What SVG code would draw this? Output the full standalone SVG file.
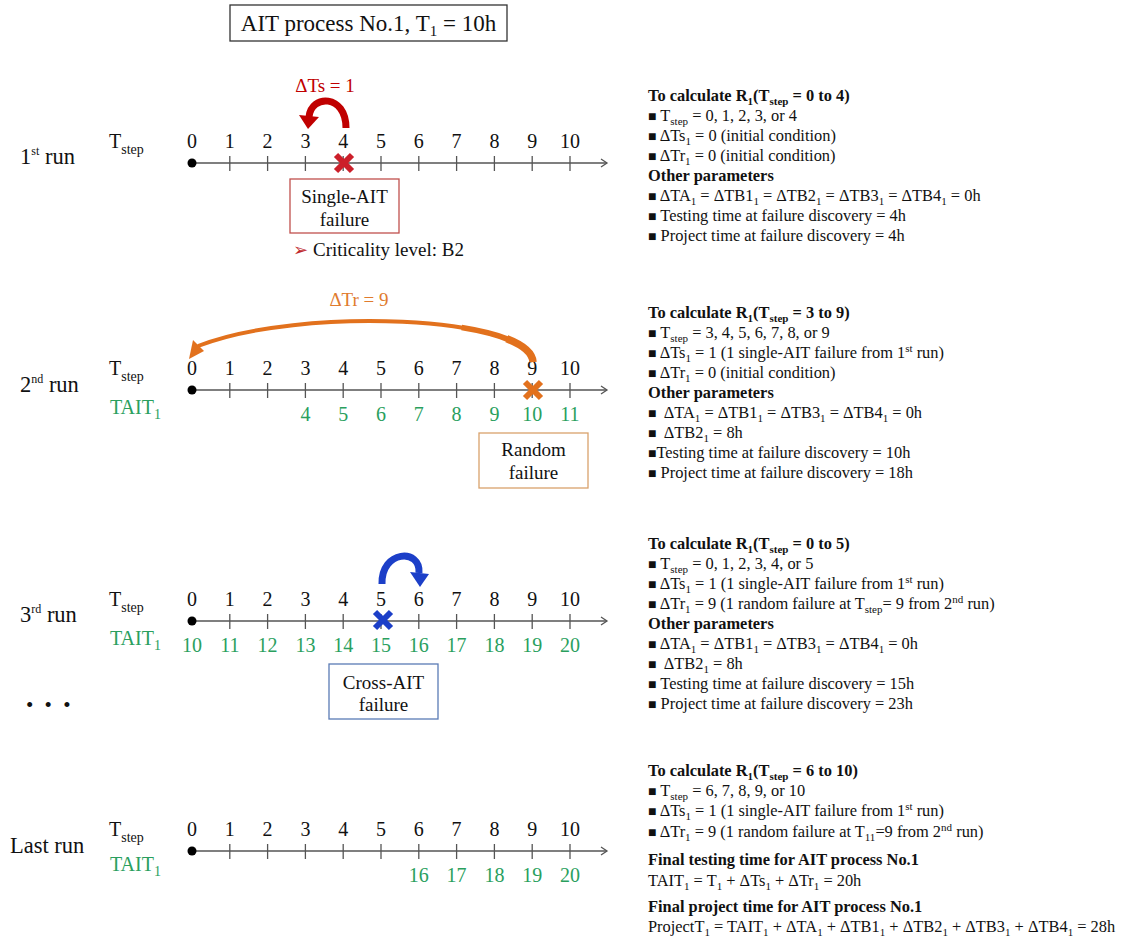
<svg xmlns="http://www.w3.org/2000/svg" width="1126" height="940" viewBox="0 0 1126 940">
  <style>
    text { font-family: "Liberation Serif", "Times New Roman", serif; fill: #111; }
    .lbl { font-size: 22.5px; }
    .num { font-size: 20px; text-anchor: middle; }
    .grn { fill: #2a9f5e; }
    .tst { font-size: 20px; }
    .sm { font-size: 14px; }
    .r { font-size: 16.4px; }
    .rb { font-size: 16.4px; font-weight: bold; }
    .s { font-size: 11px; }
    .sup { font-size: 12px; }
    .bul { font-family: "Liberation Sans", "DejaVu Sans", sans-serif; font-size: 14px; }
    .box { font-size: 19px; text-anchor: middle; }
    .axis { stroke: #555; stroke-width: 1.3; fill: none; }
    .tick { stroke: #555; stroke-width: 1.3; }
    .frame { fill: #fff; stroke-width: 1.3; }
  </style>
  <defs>
    <marker id="axhead" markerUnits="userSpaceOnUse" markerWidth="12" markerHeight="12" refX="8" refY="6" orient="auto">
      <path d="M2,2 L8,6 L2,10" fill="none" stroke="#555" stroke-width="1.3"/>
    </marker>
    <!-- one timeline: axis, origin dot and ticks 1..10 -->
    <g id="timeline">
      <line class="axis" x1="192" y1="0" x2="607" y2="0" marker-end="url(#axhead)"/>
      <circle cx="192" cy="0" r="4.5" fill="#000"/>
      <line class="tick" x1="229.8" y1="-7" x2="229.8" y2="8"/>
      <line class="tick" x1="267.6" y1="-7" x2="267.6" y2="8"/>
      <line class="tick" x1="305.4" y1="-7" x2="305.4" y2="8"/>
      <line class="tick" x1="343.2" y1="-7" x2="343.2" y2="8"/>
      <line class="tick" x1="381" y1="-7" x2="381" y2="8"/>
      <line class="tick" x1="418.8" y1="-7" x2="418.8" y2="8"/>
      <line class="tick" x1="456.6" y1="-7" x2="456.6" y2="8"/>
      <line class="tick" x1="494.4" y1="-7" x2="494.4" y2="8"/>
      <line class="tick" x1="532.2" y1="-7" x2="532.2" y2="8"/>
      <line class="tick" x1="570" y1="-7" x2="570" y2="8"/>
    </g>
    <!-- step numbers 0..10 above the axis -->
    <g id="steps">
      <text class="num" x="192" y="0">0</text>
      <text class="num" x="229.8" y="0">1</text>
      <text class="num" x="267.6" y="0">2</text>
      <text class="num" x="305.4" y="0">3</text>
      <text class="num" x="343.2" y="0">4</text>
      <text class="num" x="381" y="0">5</text>
      <text class="num" x="418.8" y="0">6</text>
      <text class="num" x="456.6" y="0">7</text>
      <text class="num" x="494.4" y="0">8</text>
      <text class="num" x="532.2" y="0">9</text>
      <text class="num" x="570" y="0">10</text>
    </g>
    <g id="xmark">
      <line x1="-8" y1="-8" x2="8" y2="8" stroke-width="6"/>
      <line x1="-8" y1="8" x2="8" y2="-8" stroke-width="6"/>
    </g>
  </defs>

  <!-- title -->
  <g id="title">
    <rect x="230" y="5" width="277" height="36" fill="#fff" stroke="#333" stroke-width="1.3"/>
    <text x="368.5" y="31" font-size="23" text-anchor="middle">AIT process No.1, T<tspan font-size="15" dy="5">1</tspan><tspan dy="-5"> = 10h</tspan></text>
  </g>

  <!-- 1st run -->
  <g id="run1">
    <text class="lbl" x="20" y="164">1<tspan class="sup" dy="-9">st</tspan><tspan dy="9"> run</tspan></text>
    <text class="tst" x="109" y="148">T<tspan class="sm" dy="6">step</tspan></text>
    <use href="#steps" y="148"/>
    <use href="#timeline" y="163"/>
    <use href="#xmark" x="344" y="163" stroke="#cc1f2a"/>
  </g>
  <g id="single-ait-failure">
    <rect class="frame" x="290" y="179" width="109" height="54" stroke="#c0504d"/>
    <text class="box" x="344.5" y="203">Single-AIT</text>
    <text class="box" x="344.5" y="226">failure</text>
  </g>
  <g id="criticality">
    <text x="293" y="256" font-size="18" style="font-family:'DejaVu Sans',sans-serif;fill:#c0282d">➢</text>
    <text x="313" y="256" font-size="19">Criticality level: B2</text>
  </g>
  <g id="label-ts">
    <text x="325" y="92" font-size="19" text-anchor="middle" style="fill:#c00000">ΔTs = 1</text>
  </g>

  <!-- 2nd run -->
  <g id="run2">
    <text class="lbl" x="20" y="392">2<tspan class="sup" dy="-9">nd</tspan><tspan dy="9"> run</tspan></text>
    <text class="tst" x="109" y="375">T<tspan class="sm" dy="6">step</tspan></text>
    <text class="tst grn" x="110" y="414">TAIT<tspan class="sm" dy="5">1</tspan></text>
    <use href="#steps" y="375"/>
    <use href="#timeline" y="390"/>
    <text class="num grn" x="305.4" y="421">4</text>
    <text class="num grn" x="343.2" y="421">5</text>
    <text class="num grn" x="381" y="421">6</text>
    <text class="num grn" x="418.8" y="421">7</text>
    <text class="num grn" x="456.6" y="421">8</text>
    <text class="num grn" x="494.4" y="421">9</text>
    <text class="num grn" x="532.2" y="421">10</text>
    <text class="num grn" x="570" y="421">11</text>
    <use href="#xmark" x="533" y="390" stroke="#e2711d"/>
  </g>
  <g id="random-failure">
    <rect class="frame" x="479" y="433" width="109" height="55" stroke="#d9a26c"/>
    <text class="box" x="533.5" y="456">Random</text>
    <text class="box" x="533.5" y="479">failure</text>
  </g>
  <g id="label-tr">
    <text x="359" y="306" font-size="19" text-anchor="middle" style="fill:#e07b2e">ΔTr = 9</text>
  </g>

  <!-- 3rd run -->
  <g id="run3">
    <text class="lbl" x="20" y="622">3<tspan class="sup" dy="-9">rd</tspan><tspan dy="9"> run</tspan></text>
    <text class="tst" x="109" y="606">T<tspan class="sm" dy="6">step</tspan></text>
    <text class="tst grn" x="110" y="645">TAIT<tspan class="sm" dy="5">1</tspan></text>
    <use href="#steps" y="606"/>
    <use href="#timeline" y="621"/>
    <text class="num grn" x="192" y="652">10</text>
    <text class="num grn" x="229.8" y="652">11</text>
    <text class="num grn" x="267.6" y="652">12</text>
    <text class="num grn" x="305.4" y="652">13</text>
    <text class="num grn" x="343.2" y="652">14</text>
    <text class="num grn" x="381" y="652">15</text>
    <text class="num grn" x="418.8" y="652">16</text>
    <text class="num grn" x="456.6" y="652">17</text>
    <text class="num grn" x="494.4" y="652">18</text>
    <text class="num grn" x="532.2" y="652">19</text>
    <text class="num grn" x="570" y="652">20</text>
    <use href="#xmark" x="383" y="620" stroke="#1c3fc8"/>
  </g>
  <g id="cross-ait-failure">
    <rect class="frame" x="329" y="664" width="109" height="55" stroke="#5a7bb5"/>
    <text class="box" x="383.5" y="689">Cross-AIT</text>
    <text class="box" x="383.5" y="711">failure</text>
  </g>
  <g id="ellipsis">
    <text x="26" y="712" font-size="21" letter-spacing="3">• • •</text>
  </g>

  <!-- last run -->
  <g id="run-last">
    <text class="lbl" x="10" y="853">Last run</text>
    <text class="tst" x="109" y="836">T<tspan class="sm" dy="6">step</tspan></text>
    <text class="tst grn" x="110" y="871">TAIT<tspan class="sm" dy="5">1</tspan></text>
    <use href="#steps" y="836"/>
    <use href="#timeline" y="851"/>
    <text class="num grn" x="418.8" y="882">16</text>
    <text class="num grn" x="456.6" y="882">17</text>
    <text class="num grn" x="494.4" y="882">18</text>
    <text class="num grn" x="532.2" y="882">19</text>
    <text class="num grn" x="570" y="882">20</text>
  </g>

  <!-- curved jump arrows -->
  <g id="connectors" fill="none">
    <path d="M346,128 C346,94 311,94 309,117" stroke="#c00000" stroke-width="7"/>
    <polygon points="299,115 319,117 308,129" fill="#c00000"/>

    <!-- long jump back to 0, thicker at its tail -->
    <path d="M533,362 C530,316 300,306 198,346" stroke="#e2711d" stroke-width="4"/>
    <path d="M533,362 C531.95,345.9 503.09,334.21 461.64,327.53" stroke="#e2711d" stroke-width="5.5"/>
    <path d="M533,362 C532.4,352.8 522.7,345 506.8,338.8" stroke="#e2711d" stroke-width="7.5"/>
    <polygon points="204,351 193,340 189,359" fill="#e2711d"/>

    <path d="M382,584 C381,550 421,548 419,573" stroke="#1c3fc8" stroke-width="7"/>
    <polygon points="410,572 429,574 420,587" fill="#1c3fc8"/>
  </g>

  <!-- notes for the 1st run -->
  <g id="notes-run1">
    <text class="rb" x="648" y="101">To calculate R<tspan class="s" dy="4">1</tspan><tspan dy="-4">(T</tspan><tspan class="s" dy="4">step</tspan><tspan dy="-4"> = 0 to 4)</tspan></text>
    <text class="r" x="648" y="121"><tspan class="bul">■</tspan> T<tspan class="s" dy="4">step</tspan><tspan dy="-4"> = 0, 1, 2, 3, or 4</tspan></text>
    <text class="r" x="648" y="141"><tspan class="bul">■</tspan> ΔTs<tspan class="s" dy="4">1</tspan><tspan dy="-4"> = 0 (initial condition)</tspan></text>
    <text class="r" x="648" y="161"><tspan class="bul">■</tspan> ΔTr<tspan class="s" dy="4">1</tspan><tspan dy="-4"> = 0 (initial condition)</tspan></text>
    <text class="rb" x="648" y="181">Other parameters</text>
    <text class="r" x="648" y="201"><tspan class="bul">■</tspan> ΔTA<tspan class="s" dy="4">1</tspan><tspan dy="-4"> = ΔTB1</tspan><tspan class="s" dy="4">1</tspan><tspan dy="-4"> = ΔTB2</tspan><tspan class="s" dy="4">1</tspan><tspan dy="-4"> = ΔTB3</tspan><tspan class="s" dy="4">1</tspan><tspan dy="-4"> = ΔTB4</tspan><tspan class="s" dy="4">1</tspan><tspan dy="-4"> = 0h</tspan></text>
    <text class="r" x="648" y="221"><tspan class="bul">■</tspan> Testing time at failure discovery = 4h</text>
    <text class="r" x="648" y="241"><tspan class="bul">■</tspan> Project time at failure discovery = 4h</text>
  </g>

  <!-- notes for the 2nd run -->
  <g id="notes-run2">
    <text class="rb" x="648" y="318">To calculate R<tspan class="s" dy="4">1</tspan><tspan dy="-4">(T</tspan><tspan class="s" dy="4">step</tspan><tspan dy="-4"> = 3 to 9)</tspan></text>
    <text class="r" x="648" y="338"><tspan class="bul">■</tspan> T<tspan class="s" dy="4">step</tspan><tspan dy="-4"> = 3, 4, 5, 6, 7, 8, or 9</tspan></text>
    <text class="r" x="648" y="358"><tspan class="bul">■</tspan> ΔTs<tspan class="s" dy="4">1</tspan><tspan dy="-4"> = 1 (1 single-AIT failure from 1</tspan><tspan class="s" dy="-6">st</tspan><tspan dy="6"> run)</tspan></text>
    <text class="r" x="648" y="378"><tspan class="bul">■</tspan> ΔTr<tspan class="s" dy="4">1</tspan><tspan dy="-4"> = 0 (initial condition)</tspan></text>
    <text class="rb" x="648" y="398">Other parameters</text>
    <text class="r" x="648" y="418" xml:space="preserve"><tspan class="bul">■</tspan>  ΔTA<tspan class="s" dy="4">1</tspan><tspan dy="-4"> = ΔTB1</tspan><tspan class="s" dy="4">1</tspan><tspan dy="-4"> = ΔTB3</tspan><tspan class="s" dy="4">1</tspan><tspan dy="-4"> = ΔTB4</tspan><tspan class="s" dy="4">1</tspan><tspan dy="-4"> = 0h</tspan></text>
    <text class="r" x="648" y="438" xml:space="preserve"><tspan class="bul">■</tspan>  ΔTB2<tspan class="s" dy="4">1</tspan><tspan dy="-4"> = 8h</tspan></text>
    <text class="r" x="648" y="458"><tspan class="bul">■</tspan>Testing time at failure discovery = 10h</text>
    <text class="r" x="648" y="478"><tspan class="bul">■</tspan> Project time at failure discovery = 18h</text>
  </g>

  <!-- notes for the 3rd run -->
  <g id="notes-run3">
    <text class="rb" x="648" y="549">To calculate R<tspan class="s" dy="4">1</tspan><tspan dy="-4">(T</tspan><tspan class="s" dy="4">step</tspan><tspan dy="-4"> = 0 to 5)</tspan></text>
    <text class="r" x="648" y="569"><tspan class="bul">■</tspan> T<tspan class="s" dy="4">step</tspan><tspan dy="-4"> = 0, 1, 2, 3, 4, or 5</tspan></text>
    <text class="r" x="648" y="589"><tspan class="bul">■</tspan> ΔTs<tspan class="s" dy="4">1</tspan><tspan dy="-4"> = 1 (1 single-AIT failure from 1</tspan><tspan class="s" dy="-6">st</tspan><tspan dy="6"> run)</tspan></text>
    <text class="r" x="648" y="609"><tspan class="bul">■</tspan> ΔTr<tspan class="s" dy="4">1</tspan><tspan dy="-4"> = 9 (1 random failure at T</tspan><tspan class="s" dy="4">step</tspan><tspan dy="-4">= 9 from 2</tspan><tspan class="s" dy="-6">nd</tspan><tspan dy="6"> run)</tspan></text>
    <text class="rb" x="648" y="629">Other parameters</text>
    <text class="r" x="648" y="649"><tspan class="bul">■</tspan> ΔTA<tspan class="s" dy="4">1</tspan><tspan dy="-4"> = ΔTB1</tspan><tspan class="s" dy="4">1</tspan><tspan dy="-4"> = ΔTB3</tspan><tspan class="s" dy="4">1</tspan><tspan dy="-4"> = ΔTB4</tspan><tspan class="s" dy="4">1</tspan><tspan dy="-4"> = 0h</tspan></text>
    <text class="r" x="648" y="669" xml:space="preserve"><tspan class="bul">■</tspan>  ΔTB2<tspan class="s" dy="4">1</tspan><tspan dy="-4"> = 8h</tspan></text>
    <text class="r" x="648" y="689"><tspan class="bul">■</tspan> Testing time at failure discovery = 15h</text>
    <text class="r" x="648" y="709"><tspan class="bul">■</tspan> Project time at failure discovery = 23h</text>
  </g>

  <!-- notes for the last run and final totals -->
  <g id="notes-last">
    <text class="rb" x="648" y="776">To calculate R<tspan class="s" dy="4">1</tspan><tspan dy="-4">(T</tspan><tspan class="s" dy="4">step</tspan><tspan dy="-4"> = 6 to 10)</tspan></text>
    <text class="r" x="648" y="796"><tspan class="bul">■</tspan> T<tspan class="s" dy="4">step</tspan><tspan dy="-4"> = 6, 7, 8, 9, or 10</tspan></text>
    <text class="r" x="648" y="816"><tspan class="bul">■</tspan> ΔTs<tspan class="s" dy="4">1</tspan><tspan dy="-4"> = 1 (1 single-AIT failure from 1</tspan><tspan class="s" dy="-6">st</tspan><tspan dy="6"> run)</tspan></text>
    <text class="r" x="648" y="837"><tspan class="bul">■</tspan> ΔTr<tspan class="s" dy="4">1</tspan><tspan dy="-4"> = 9 (1 random failure at T</tspan><tspan class="s" dy="4">11</tspan><tspan dy="-4">=9 from 2</tspan><tspan class="s" dy="-6">nd</tspan><tspan dy="6"> run)</tspan></text>
    <text class="rb" x="648" y="865">Final testing time for AIT process No.1</text>
    <text class="r" x="648" y="886">TAIT<tspan class="s" dy="4">1</tspan><tspan dy="-4"> = T</tspan><tspan class="s" dy="4">1</tspan><tspan dy="-4"> + ΔTs</tspan><tspan class="s" dy="4">1</tspan><tspan dy="-4"> + ΔTr</tspan><tspan class="s" dy="4">1</tspan><tspan dy="-4"> = 20h</tspan></text>
    <text class="rb" x="648" y="912">Final project time for AIT process No.1</text>
    <text class="r" x="648" y="932">ProjectT<tspan class="s" dy="4">1</tspan><tspan dy="-4"> = TAIT</tspan><tspan class="s" dy="4">1</tspan><tspan dy="-4"> + ΔTA</tspan><tspan class="s" dy="4">1</tspan><tspan dy="-4"> + ΔTB1</tspan><tspan class="s" dy="4">1</tspan><tspan dy="-4"> + ΔTB2</tspan><tspan class="s" dy="4">1</tspan><tspan dy="-4"> + ΔTB3</tspan><tspan class="s" dy="4">1</tspan><tspan dy="-4"> + ΔTB4</tspan><tspan class="s" dy="4">1</tspan><tspan dy="-4"> = 28h</tspan></text>
  </g>
</svg>
